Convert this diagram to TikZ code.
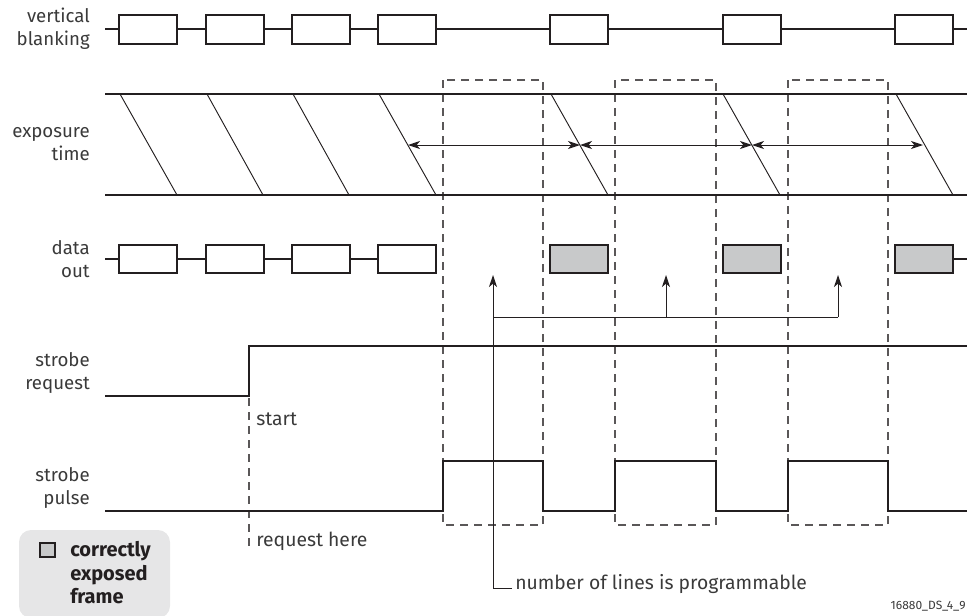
\documentclass[tikz,border=0pt]{standalone}
\usepackage{fontspec}
\setmainfont{Fira Sans}
\usetikzlibrary{arrows.meta}
\definecolor{ink}{HTML}{231F20}
\definecolor{txt}{HTML}{3A3A3A}
\definecolor{boxgray}{HTML}{C8C9CA}
\definecolor{legendgray}{HTML}{E6E6E7}
\begin{document}
\begin{tikzpicture}[x=0.75pt,y=-0.75pt,
  sig/.style={draw=ink, line width=1.6pt},
  framebox/.style={draw=ink, line width=1.6pt, fill=white},
  graybox/.style={draw=ink, line width=1.6pt, fill=boxgray},
  diag/.style={draw=ink, line width=0.7pt},
  thin/.style={draw=ink, line width=0.75pt},
  tip/.style={-{Stealth[length=9pt,width=6pt,inset=2.5pt]}},
  dtip/.style={{Stealth[length=9pt,width=6pt,inset=2.5pt]}-{Stealth[length=9pt,width=6pt,inset=2.5pt]}},
  dashln/.style={draw=ink!75, line width=0.8pt, dash pattern=on 6pt off 4.5pt},
  lbl/.style={anchor=east, align=right, text=txt, font=\fontsize{14}{17.25}\selectfont, inner sep=0pt},
  note/.style={anchor=west, text=txt, font=\fontsize{14.5}{17.25}\selectfont, inner sep=0pt}]
\useasboundingbox (0,0) rectangle (967,615);

% labels
\node[lbl] (lvb) at (90,28.5) {vertical\\blanking};
\node[lbl] (lex) at (90,144) {exposure\\time};
\node[lbl] (ldo) at (90,259) {data\\out};
\node[lbl] (lsr) at (90,373) {strobe\\request};
\node[lbl] (lsp) at (90,488) {strobe\\pulse};

% dashed frames
\foreach \a/\b in {443/543, 615/716, 788/888}
  \draw[dashln] (\a,80) rectangle (\b,525);

% vertical blanking
\draw[sig] (105,29) -- (967,29);
\foreach \a in {119,206,292,378,550,723,895}
  \draw[framebox] (\a,15) rectangle ++(58,29);

% exposure time
\draw[sig] (105,94) -- (967,94);
\draw[sig] (105,195) -- (967,195);
\foreach \a/\b in {120/177,207/263,293/349,379/436,551/608,723/780,896/953}
  \draw[diag] (\a,94) -- (\b,195);
\coordinate (e1) at (408,145);
\coordinate (e2) at (580,145);
\coordinate (e3) at (752,145);
\coordinate (e4) at (923,145);
\draw[thin,dtip] (e1) -- (e2);
\draw[thin,dtip] (e2) -- (e3);
\draw[thin,dtip] (e3) -- (e4);

% data out
\draw[sig] (105,259) -- (436,259);
\foreach \a in {119,206,292,378}
  \draw[framebox] (\a,245) rectangle ++(58,28);
\draw[sig] (953,259) -- (967,259);
\foreach \a in {550,723,895}
  \draw[graybox] (\a,245) rectangle ++(58,28);

% programmable-lines arrows
\coordinate (a1) at (493,275);
\coordinate (a2) at (666,275);
\coordinate (a3) at (838,275);
\coordinate (b2) at (666,317);
\coordinate (b3) at (838,317);
\coordinate (c0) at (493,588);
\coordinate (c1) at (512,588);
\draw[thin,tip] (c1) -- (c0) -- (a1);
\draw[thin] (493,317) -- (b3);
\draw[thin,tip] (b2) -- (a2);
\draw[thin,tip] (b3) -- (a3);
\node[note] (prog) at (515,584) {number of lines is programmable};

% strobe request
\draw[sig] (105,396) -- (249,396) -- (249,346) -- (967,346);
\draw[dashln] (249,398) -- (249,548);
\node[note] (start) at (256,419) {start};
\node[note] (reqh) at (256,541) {request here};

% strobe pulse
\draw[sig] (105,511) -- (443,511) -- (443,461) -- (543,461) -- (543,511)
  -- (615,511) -- (615,461) -- (716,461) -- (716,511)
  -- (788,511) -- (788,461) -- (888,461) -- (888,511) -- (967,511);

% legend
\fill[legendgray, rounded corners=9pt] (19,530) rectangle (170,618);
\draw[draw=ink, line width=1.1pt, fill=boxgray] (40,543) rectangle (55,557);
\node[anchor=west, align=left, text=ink, inner sep=0pt,
  font=\fontsize{15}{17.6}\selectfont\bfseries] (leg) at (70,573) {correctly\\exposed\\frame};

\node[anchor=east, text=txt, inner sep=0pt, font=\fontsize{9}{11}\selectfont] (code) at (966,606) {16880\_DS\_4\_9};
\end{tikzpicture}
\end{document}
